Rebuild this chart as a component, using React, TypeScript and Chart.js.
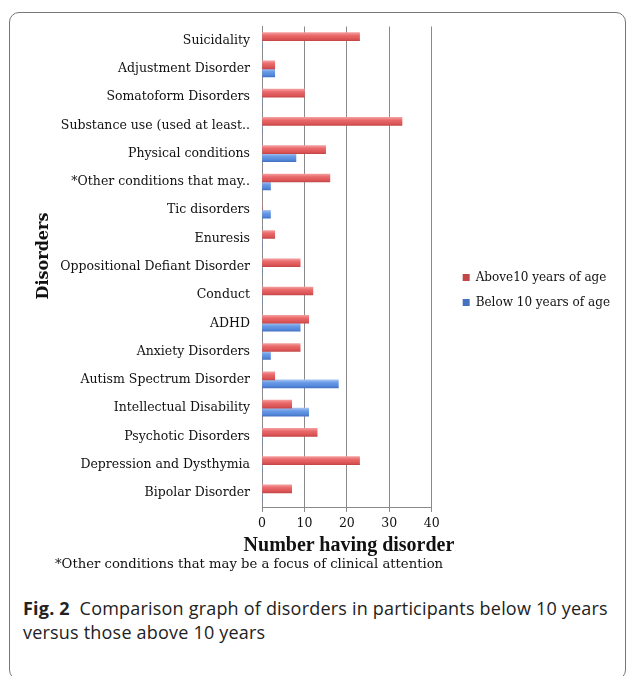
import React, { useEffect, useRef } from "react";
import { Chart, registerables } from "chart.js";

Chart.register(...registerables);

const categories = [
  "Suicidality",
  "Adjustment Disorder",
  "Somatoform Disorders",
  "Substance use (used at least..",
  "Physical conditions",
  "*Other conditions that may..",
  "Tic disorders",
  "Enuresis",
  "Oppositional Defiant Disorder",
  "Conduct",
  "ADHD",
  "Anxiety Disorders",
  "Autism Spectrum Disorder",
  "Intellectual Disability",
  "Psychotic Disorders",
  "Depression and Dysthymia",
  "Bipolar Disorder",
];

const above10 = [23, 3, 10, 33, 15, 16, 0, 3, 9, 12, 11, 9, 3, 7, 13, 23, 7];
const below10 = [0, 3, 0, 0, 8, 2, 2, 0, 0, 0, 9, 2, 18, 11, 0, 0, 0];

const seriesNames = ["Above10 years of age", "Below 10 years of age"];
const xTicks = [0, 10, 20, 30, 40];
const xTitle = "Number having disorder";
const yTitle = "Disorders";
const footnote = "*Other conditions that may be a focus of clinical attention";

const SERIF = "'DejaVu Serif', serif";
const BAR = 8;

const palettes = [
  { solid: "#e0605f", stops: ["#f49c9c", "#e96a6c", "#dc5455", "#c44748"] },
  { solid: "#5b8fdc", stops: ["#a3c2f2", "#6a9be6", "#5286d9", "#4672c2"] },
];

function barFill(ctx: any) {
  const p = palettes[ctx.datasetIndex] || palettes[0];
  if (ctx.type !== "data") return p.solid;
  const yScale = ctx.chart.scales && ctx.chart.scales.y;
  if (!yScale) return p.solid;
  const c = yScale.getPixelForValue(ctx.dataIndex);
  if (!isFinite(c)) return p.solid;
  const top = ctx.datasetIndex === 0 ? c - BAR : c;
  const g = ctx.chart.ctx.createLinearGradient(0, top, 0, top + BAR);
  g.addColorStop(0, p.stops[0]);
  g.addColorStop(0.35, p.stops[1]);
  g.addColorStop(0.8, p.stops[2]);
  g.addColorStop(1, p.stops[3]);
  return g;
}

const legendShift = {
  id: "legendShift",
  afterLayout(chart: any) {
    const lg = chart.legend;
    if (lg) {
      lg.left += 18;
      lg.right += 18;
      lg.top += 19;
      lg.bottom += 19;
    }
  },
};

export default function App() {
  const ref = useRef<HTMLCanvasElement | null>(null);

  useEffect(() => {
    if (!ref.current) return;
    const chart = new Chart(ref.current, {
      type: "bar",
      data: {
        labels: categories,
        datasets: [
          {
            label: seriesNames[0],
            data: above10,
            backgroundColor: barFill,
            barThickness: BAR,
          },
          {
            label: seriesNames[1],
            data: below10,
            backgroundColor: barFill,
            barThickness: BAR,
          },
        ],
      },
      plugins: [legendShift],
      options: {
        indexAxis: "y",
        animation: false,
        responsive: false,
        maintainAspectRatio: false,
        layout: { padding: { top: 0, left: 14, right: 18, bottom: 0 } },
        plugins: {
          tooltip: { enabled: false },
          legend: {
            position: "right",
            maxWidth: 260,
            labels: {
              boxWidth: 7,
              boxHeight: 7,
              padding: 13,
              color: "#111",
              font: { family: SERIF, size: 12 },
            },
          },
        },
        scales: {
          x: {
            min: xTicks[0],
            max: xTicks[xTicks.length - 1],
            afterBuildTicks: (axis: any) => {
              axis.ticks = xTicks.map((v) => ({ value: v }));
            },
            grid: {
              color: "#8a8a8a",
              lineWidth: 1,
              tickLength: 5,
              drawOnChartArea: true,
            },
            border: { color: "#8a8a8a" },
            ticks: {
              color: "#111",
              font: { family: SERIF, size: 12.5 },
              padding: 4,
            },
          },
          y: {
            afterFit: (scale: any) => {
              scale.width = 228;
            },
            grid: { display: false, drawTicks: false },
            border: { color: "#8a8a8a" },
            ticks: {
              color: "#111",
              font: { family: SERIF, size: 12.5 },
              padding: 12,
              autoSkip: false,
            },
          },
        },
      },
    });
    return () => chart.destroy();
  }, []);

  return (
    <div
      style={{
        position: "absolute",
        left: 0,
        top: 0,
        width: 630,
        height: 676,
        overflow: "hidden",
        background: "#fff",
      }}
    >
      <div
        style={{
          position: "absolute",
          left: 9,
          top: 12,
          width: 617,
          height: 668,
          border: "1px solid #777",
          borderRadius: 10,
          boxSizing: "border-box",
        }}
      />
      <canvas
        ref={ref}
        width={600}
        height={528}
        style={{ position: "absolute", left: 20, top: 7, width: 600, height: 528 }}
      />
      <div
        style={{
          position: "absolute",
          left: -17,
          top: 245.5,
          width: 120,
          height: 20,
          lineHeight: "20px",
          textAlign: "center",
          transform: "rotate(-90deg)",
          fontFamily: SERIF,
          fontWeight: "bold",
          fontSize: 16,
          color: "#111",
          whiteSpace: "nowrap",
        }}
      >
        {yTitle}
      </div>
      <div
        style={{
          position: "absolute",
          left: 0,
          top: 532,
          width: 698,
          lineHeight: "24px",
          textAlign: "center",
          fontFamily: "'Liberation Serif', serif",
          fontWeight: "bold",
          fontSize: 20,
          color: "#111",
          whiteSpace: "nowrap",
        }}
      >
        {xTitle}
      </div>
      <div
        style={{
          position: "absolute",
          left: 55,
          top: 556,
          fontFamily: SERIF,
          fontSize: 13.2,
          color: "#111",
          whiteSpace: "nowrap",
        }}
      >
        {footnote}
      </div>
      <div
        style={{
          position: "absolute",
          left: 23,
          top: 596,
          width: 605,
          fontFamily: "'Open Sans', 'Noto Sans', sans-serif",
          fontSize: 18,
          letterSpacing: 0.2,
          lineHeight: "24px",
          color: "#222",
          whiteSpace: "nowrap",
        }}
      >
        <b>Fig. 2</b>&nbsp; Comparison graph of disorders in participants below 10 years
        <br />
        versus those above 10 years
      </div>
    </div>
  );
}
